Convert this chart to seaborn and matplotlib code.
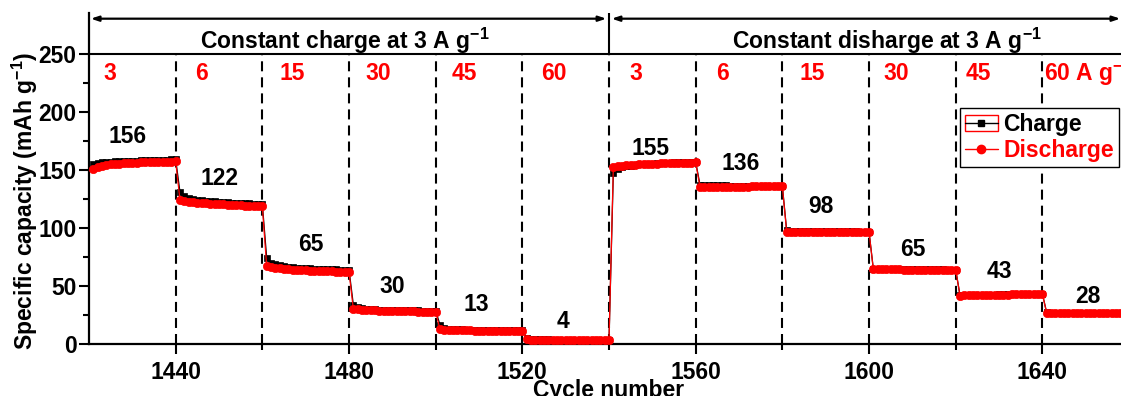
import numpy as np
import pandas as pd
import matplotlib
matplotlib.use("Agg")
import matplotlib.pyplot as plt
from matplotlib.lines import Line2D
from matplotlib.patches import Rectangle
from matplotlib.legend_handler import HandlerTuple
import seaborn as sns

# ---------------- data ----------------
# specific capacity (mAh g-1) per cycle, 20 cycles per rate step
charge_seg = [
    [155.0, 155.9, 156.5, 156.9, 157.2, 157.4, 157.6, 157.8, 157.9, 158.1, 158.2, 158.3, 158.5, 158.6, 158.7, 158.8, 158.9, 159.0, 159.1, 159.2],
    [130.8, 127.2, 125.9, 125.1, 124.5, 124.0, 123.6, 123.3, 123.0, 122.7, 122.5, 122.2, 122.0, 121.8, 121.6, 121.4, 121.2, 121.0, 120.8, 120.6],
    [74.5, 70.2, 68.6, 67.7, 67.1, 66.6, 66.2, 65.9, 65.6, 65.4, 65.2, 65.0, 64.8, 64.7, 64.5, 64.4, 64.3, 64.2, 64.1, 64.0],
    [34.0, 31.5, 30.8, 30.4, 30.1, 29.9, 29.7, 29.6, 29.5, 29.4, 29.3, 29.2, 29.1, 29.0, 29.0, 28.9, 28.8, 28.8, 28.7, 28.7],
    [16.5, 13.8, 13.2, 12.9, 12.7, 12.6, 12.5, 12.4, 12.3, 12.3, 12.2, 12.2, 12.1, 12.1, 12.0, 12.0, 12.0, 11.9, 11.9, 11.9],
    [5.5, 4.3, 4.1, 4.0, 3.9, 3.9, 3.8, 3.8, 3.8, 3.7, 3.7, 3.7, 3.7, 3.6, 3.6, 3.6, 3.6, 3.6, 3.5, 3.5],
    [147.5, 151.0, 152.5, 153.3, 153.9, 154.4, 154.8, 155.1, 155.4, 155.6, 155.8, 156.0, 156.2, 156.3, 156.5, 156.6, 156.8, 156.9, 157.0, 157.1],
    [137.2, 136.9, 136.8, 136.8, 136.7, 136.7, 136.7, 136.6, 136.6, 136.6, 136.6, 136.6, 136.5, 136.5, 136.5, 136.5, 136.5, 136.5, 136.4, 136.4],
    [98.0, 97.6, 97.5, 97.4, 97.4, 97.3, 97.3, 97.3, 97.2, 97.2, 97.2, 97.2, 97.1, 97.1, 97.1, 97.1, 97.1, 97.0, 97.0, 97.0],
    [64.8, 64.6, 64.5, 64.5, 64.5, 64.4, 64.4, 64.4, 64.4, 64.4, 64.3, 64.3, 64.3, 64.3, 64.3, 64.3, 64.3, 64.2, 64.2, 64.2],
    [42.0, 42.1, 42.2, 42.3, 42.3, 42.4, 42.5, 42.5, 42.6, 42.7, 42.7, 42.8, 42.9, 42.9, 43.0, 43.1, 43.2, 43.2, 43.3, 43.4],
    [27.2, 27.1, 27.1, 27.1, 27.1, 27.1, 27.1, 27.0, 27.0, 27.0, 27.0, 27.0, 27.0, 27.0, 27.0, 27.0, 27.0, 27.0, 27.0, 27.0],
]
discharge_seg = [
    [151.2, 152.8, 153.9, 154.6, 155.0, 155.3, 155.6, 155.8, 156.0, 156.2, 156.4, 156.5, 156.7, 156.8, 156.9, 157.0, 157.1, 157.2, 157.3, 157.4],
    [124.0, 123.2, 122.6, 122.2, 121.8, 121.5, 121.2, 120.9, 120.7, 120.5, 120.3, 120.1, 119.9, 119.7, 119.5, 119.4, 119.2, 119.0, 118.9, 118.7],
    [67.0, 66.3, 65.7, 65.2, 64.8, 64.5, 64.2, 63.9, 63.7, 63.5, 63.3, 63.1, 63.0, 62.8, 62.7, 62.6, 62.5, 62.4, 62.3, 62.2],
    [30.2, 29.8, 29.5, 29.3, 29.1, 28.9, 28.8, 28.7, 28.6, 28.5, 28.4, 28.3, 28.2, 28.2, 28.1, 28.0, 28.0, 27.9, 27.9, 27.8],
    [12.6, 12.3, 12.1, 12.0, 11.9, 11.8, 11.7, 11.7, 11.6, 11.6, 11.5, 11.5, 11.4, 11.4, 11.4, 11.3, 11.3, 11.3, 11.2, 11.2],
    [4.0, 3.8, 3.7, 3.6, 3.6, 3.5, 3.5, 3.5, 3.4, 3.4, 3.4, 3.4, 3.3, 3.3, 3.3, 3.3, 3.3, 3.2, 3.2, 3.2],
    [152.5, 153.3, 153.8, 154.2, 154.5, 154.7, 154.9, 155.1, 155.3, 155.4, 155.6, 155.7, 155.8, 155.9, 156.0, 156.1, 156.2, 156.3, 156.4, 156.5],
    [135.4, 135.5, 135.6, 135.6, 135.7, 135.7, 135.7, 135.8, 135.8, 135.8, 135.8, 135.8, 135.9, 135.9, 135.9, 135.9, 135.9, 135.9, 136.0, 136.0],
    [96.8, 96.9, 96.9, 97.0, 97.0, 97.0, 97.0, 97.0, 96.9, 96.9, 96.9, 96.9, 96.9, 96.9, 96.8, 96.8, 96.8, 96.8, 96.8, 96.8],
    [64.3, 64.3, 64.3, 64.3, 64.3, 64.3, 64.3, 64.2, 64.2, 64.2, 64.2, 64.2, 64.2, 64.2, 64.2, 64.2, 64.1, 64.1, 64.1, 64.1],
    [41.8, 41.9, 42.0, 42.1, 42.1, 42.2, 42.3, 42.3, 42.4, 42.5, 42.5, 42.6, 42.7, 42.7, 42.8, 42.9, 43.0, 43.0, 43.1, 43.2],
    [26.6, 26.7, 26.7, 26.8, 26.8, 26.8, 26.8, 26.8, 26.8, 26.8, 26.9, 26.9, 26.9, 26.9, 26.9, 26.9, 26.9, 26.9, 26.9, 26.9],
]
first_cycle = 1421

# rate step boundaries (cycle numbers) and rate labels
step_bounds = [1440, 1460, 1480, 1500, 1520, 1540, 1560, 1580, 1600, 1620, 1640]
rate_labels = ["3", "6", "15", "30", "45", "60", "3", "6", "15", "30", "45", "60 A g$^{-1}$"]
# capacity value written above each step
capacity_labels = ["156", "122", "65", "30", "13", "4", "155", "136", "98", "65", "43", "28"]

# ---------------- annotation placement ----------------
rate_label_x = [1424.8, 1446.0, 1467.0, 1486.7, 1506.5, 1527.3,
                1546.2, 1566.3, 1586.9, 1606.4, 1625.3, 1640.3]
rate_label_y = 233.5
cap_label_x = [1428.8, 1450.2, 1471.2, 1489.9, 1509.3, 1529.4,
               1549.6, 1570.4, 1589.0, 1610.0, 1630.0, 1650.5]
cap_label_y = [178.9, 143.0, 85.4, 49.5, 33.7, 19.8,
               168.9, 155.9, 118.5, 81.1, 62.4, 40.8]

# ---------------- frame ----------------
charge = np.concatenate(charge_seg)
discharge = np.concatenate(discharge_seg)
cycles = np.arange(first_cycle, first_cycle + len(charge))
df = pd.DataFrame({"cycle": cycles, "charge": charge, "discharge": discharge})

sns.set_style("ticks")
plt.rcParams["font.family"] = ["Liberation Sans", "DejaVu Sans"]
plt.rcParams["font.weight"] = "bold"
plt.rcParams["mathtext.fontset"] = "custom"
plt.rcParams["mathtext.rm"] = "Liberation Sans:bold"
plt.rcParams["mathtext.it"] = "Liberation Sans:bold"
plt.rcParams["mathtext.bf"] = "Liberation Sans:bold"

W, H = 1121, 396
fig = plt.figure(figsize=(W / 100, H / 100), dpi=100)
ax_left, ax_bottom, ax_top = 89, 344, 13
ax_w = 1040
ax = fig.add_axes([ax_left / W, 1 - ax_bottom / H, ax_w / W, (ax_bottom - ax_top) / H])

YTOP = 285.4
ax.set_xlim(1420, 1660)
ax.set_ylim(0, YTOP)

FS = 16.5

# rate-step separators
for b in step_bounds:
    ax.vlines(b, 0, 250, colors="black", linewidth=1.5,
              linestyles=(0, (4.8, 2.9)), zorder=1)
ax.vlines(1540, 250, YTOP, colors="black", linewidth=1.5, zorder=1)
ax.axhline(250, color="black", linewidth=1.5, zorder=1)

# capacity curves
sns.lineplot(data=df, x="cycle", y="charge", ax=ax, color="black",
             marker="s", markersize=5, markeredgecolor="black",
             markeredgewidth=0.5, linewidth=0.9, errorbar=None, sort=False,
             zorder=3)
sns.lineplot(data=df, x="cycle", y="discharge", ax=ax, color="red",
             marker="o", markersize=6, markeredgecolor="red",
             markeredgewidth=0.5, linewidth=0.9, errorbar=None, sort=False,
             zorder=4)

# protocol arrows and headings
arrow_kw = dict(arrowstyle="<|-|>,head_length=0.45,head_width=0.15",
                color="black", lw=1.6, shrinkA=0, shrinkB=0)
ax.annotate("", xy=(1420.4, 280.5), xytext=(1539.4, 280.5), arrowprops=arrow_kw)
ax.annotate("", xy=(1540.6, 280.5), xytext=(1658.0, 280.5), arrowprops=arrow_kw)
ax.text(1479.0, 261.0, "Constant charge at 3 A g$^{-1}$", ha="center", va="center",
        fontsize=FS, fontweight="bold", color="black")
ax.text(1604.2, 261.0, "Constant disharge at 3 A g$^{-1}$", ha="center", va="center",
        fontsize=FS, fontweight="bold", color="black")

for i, (lab, x) in enumerate(zip(rate_labels, rate_label_x)):
    ax.text(x, rate_label_y, lab, ha="left" if i == len(rate_labels) - 1 else "center",
            va="center", fontsize=FS, fontweight="bold", color="red")
for lab, x, y in zip(capacity_labels, cap_label_x, cap_label_y):
    ax.text(x, y, lab, ha="center", va="center", fontsize=FS,
            fontweight="bold", color="black")

# axes styling
ax.set_yticks([0, 50, 100, 150, 200, 250])
ax.set_yticks([25, 75, 125, 175, 225], minor=True)
ax.set_xticks([1440, 1480, 1520, 1560, 1600, 1640])
ax.set_xticks([1460, 1500, 1540, 1580, 1620], minor=True)
ax.tick_params(axis="both", which="major", direction="out", length=7, width=1.5,
               labelsize=FS, color="black", labelcolor="black")
ax.tick_params(axis="both", which="minor", direction="out", length=4, width=1.5,
               color="black")
ax.tick_params(axis="y", which="major", pad=2)
ax.tick_params(axis="x", which="major", pad=5)
for t in ax.get_xticklabels() + ax.get_yticklabels():
    t.set_fontweight("bold")

for s in ["top", "right"]:
    ax.spines[s].set_visible(False)
for s in ["left", "bottom"]:
    ax.spines[s].set_linewidth(1.6)
    ax.spines[s].set_color("black")

ax.set_xlabel("Cycle number", fontsize=FS, fontweight="bold", color="black")
ax.set_ylabel("Specific capacity (mAh g$^{-1}$)", fontsize=FS, fontweight="bold",
              color="black")
ax.xaxis.set_label_coords(0.5, -0.105)
ax.yaxis.set_label_coords(-0.047, 0.432)

# legend
h_charge = (Rectangle((0, 0), 1, 1, facecolor="none", edgecolor="red", linewidth=1.0),
            Line2D([], [], color="black", marker="s", markersize=5, linewidth=1.0))
h_dis = Line2D([], [], color="red", marker="o", markersize=6, linewidth=1.0)
leg = ax.legend([h_charge, h_dis], ["Charge", "Discharge"],
                handler_map={tuple: HandlerTuple(ndivide=1)},
                loc="upper left", bbox_to_anchor=((960 - ax_left) / ax_w, (ax_bottom - 108) / (ax_bottom - ax_top)),
                prop={"size": FS, "weight": "bold"}, frameon=True, fancybox=False,
                edgecolor="black", framealpha=1, handlelength=1.45, handletextpad=0.25,
                borderpad=0.2, labelspacing=0.15, borderaxespad=0)
leg.get_frame().set_linewidth(1.0)
leg.get_texts()[0].set_color("black")
leg.get_texts()[1].set_color("red")

fig.savefig("out.png", dpi=100)
